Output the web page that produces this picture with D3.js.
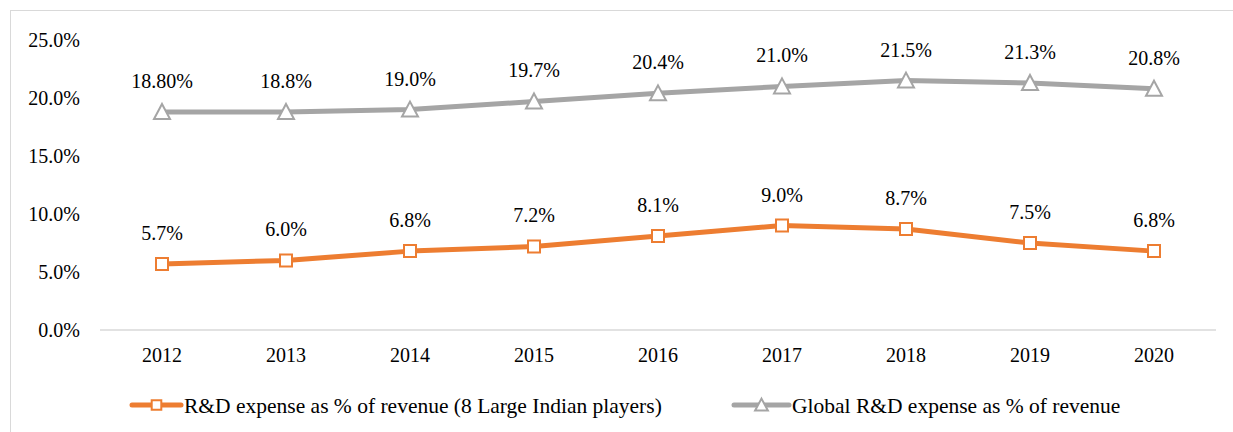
<!DOCTYPE html>
<html>
<head>
<meta charset="utf-8">
<script src="https://cdn.jsdelivr.net/npm/d3@7"></script>
<style>
  body { margin: 0; background: #fff; }
</style>
</head>
<body>
<div id="chart"></div>
<script>
// datos
const years = ["2012", "2013", "2014", "2015", "2016", "2017", "2018", "2019", "2020"];
const indianRD = [5.7, 6.0, 6.8, 7.2, 8.1, 9.0, 8.7, 7.5, 6.8];
const indianLabels = ["5.7%", "6.0%", "6.8%", "7.2%", "8.1%", "9.0%", "8.7%", "7.5%", "6.8%"];
const globalRD = [18.8, 18.8, 19.0, 19.7, 20.4, 21.0, 21.5, 21.3, 20.8];
const globalLabels = ["18.80%", "18.8%", "19.0%", "19.7%", "20.4%", "21.0%", "21.5%", "21.3%", "20.8%"];
const yTicks = [0, 5, 10, 15, 20, 25];
const seriesNames = ["R&D expense as % of revenue (8 Large Indian players)", "Global R&D expense as % of revenue"];

const width = 1233, height = 432;
const orange = "#ED7D31", gray = "#A5A5A5";
const font = "Liberation Serif";

const svg = d3.select("#chart").append("svg")
  .attr("width", width)
  .attr("height", height);

// marco
svg.append("rect")
  .attr("x", 10.5).attr("y", 10.5)
  .attr("width", width).attr("height", height)
  .attr("fill", "none")
  .attr("stroke", "#d9d9d9");

const x = d3.scaleBand().domain(years).range([100, 1216]);
const y = d3.scaleLinear().domain([0, 25]).range([330, 40]);
const cx = d => x(d) + x.bandwidth() / 2;

// eje y (solo etiquetas)
svg.append("g")
  .selectAll("text")
  .data(yTicks)
  .enter().append("text")
  .attr("x", 80)
  .attr("y", d => y(d))
  .attr("dy", "0.35em")
  .attr("text-anchor", "end")
  .attr("font-family", font)
  .attr("font-size", 20)
  .text(d => d.toFixed(1) + "%");

// eje x
svg.append("line")
  .attr("x1", 100).attr("x2", 1216)
  .attr("y1", y(0)).attr("y2", y(0))
  .attr("stroke", "#d9d9d9")
  .attr("stroke-width", 1.5);

svg.append("g")
  .selectAll("text")
  .data(years)
  .enter().append("text")
  .attr("x", d => cx(d))
  .attr("y", 362)
  .attr("text-anchor", "middle")
  .attr("font-family", font)
  .attr("font-size", 20)
  .text(d => d);

const line = d3.line()
  .x((d, i) => cx(years[i]))
  .y(d => y(d));

function drawSeries(values, labels, color, marker) {
  const g = svg.append("g");
  g.append("path")
    .datum(values)
    .attr("d", line)
    .attr("fill", "none")
    .attr("stroke", color)
    .attr("stroke-width", 5)
    .attr("stroke-linejoin", "round");

  g.selectAll("path.m")
    .data(values)
    .enter().append("path")
    .attr("class", "m")
    .attr("transform", (d, i) => `translate(${cx(years[i])},${y(d)})`)
    .attr("d", marker)
    .attr("fill", "#fff")
    .attr("stroke", color)
    .attr("stroke-width", 2);

  g.selectAll("text")
    .data(values)
    .enter().append("text")
    .attr("x", (d, i) => cx(years[i]))
    .attr("y", d => y(d) - 24)
    .attr("text-anchor", "middle")
    .attr("font-family", font)
    .attr("font-size", 20)
    .text((d, i) => labels[i]);
}

const squareMarker = "M-6,-6H6V6H-6Z";
const triMarker = "M0,-8L8,7H-8Z";

drawSeries(globalRD, globalLabels, gray, triMarker);
drawSeries(indianRD, indianLabels, orange, squareMarker);

// leyenda
const legend = [
  { name: seriesNames[0], color: orange, marker: squareMarker, x: 132, w: 49 },
  { name: seriesNames[1], color: gray, marker: triMarker, x: 734, w: 55 }
];
const lg = svg.append("g");
legend.forEach(l => {
  const ly = 405;
  lg.append("line")
    .attr("x1", l.x).attr("x2", l.x + l.w)
    .attr("y1", ly).attr("y2", ly)
    .attr("stroke", l.color)
    .attr("stroke-width", 5)
    .attr("stroke-linecap", "round");
  lg.append("path")
    .attr("transform", `translate(${l.x + l.w / 2},${ly}) scale(0.8)`)
    .attr("d", l.marker)
    .attr("fill", "#fff")
    .attr("stroke", l.color)
    .attr("stroke-width", 2.5);
  lg.append("text")
    .attr("x", l.x + l.w + 3)
    .attr("y", ly)
    .attr("dy", "0.35em")
    .attr("font-family", font)
    .attr("font-size", 21.5)
    .text(l.name);
});
</script>
</body>
</html>
